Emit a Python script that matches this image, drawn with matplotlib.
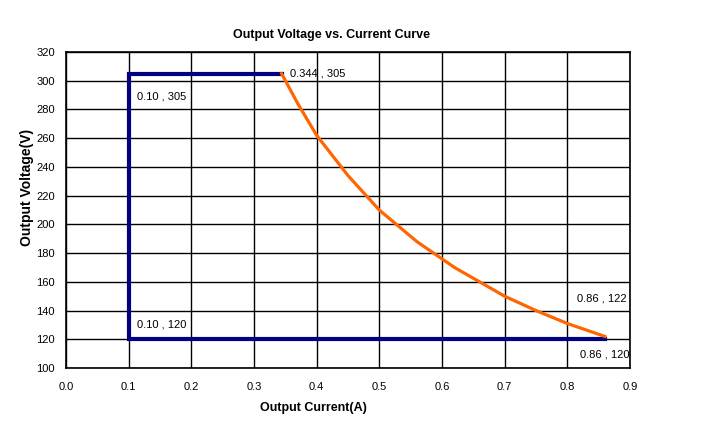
import matplotlib
matplotlib.use('Agg')
import matplotlib.pyplot as plt

plt.rcParams['font.family'] = ['Liberation Sans', 'DejaVu Sans']

# blue limit box (constant current / voltage)
box_i = [0.344, 0.10, 0.10, 0.86]
box_v = [305, 305, 120, 120]

# orange constant power curve
curve_i = [0.344, 0.37, 0.40, 0.45, 0.50, 0.56, 0.62, 0.70, 0.75, 0.80, 0.86]
curve_v = [305, 284, 262, 234, 210, 188, 170, 150, 140, 131, 122]

labels = ['0.344 , 305', '0.10 , 305', '0.10 , 120', '0.86 , 122', '0.86 , 120']
label_xy = [(0.357, 305.4), (0.113, 288.7), (0.113, 130.6), (0.815, 148.7), (0.820, 109.7)]

fig = plt.figure(figsize=(7.23, 4.41), dpi=100)
ax = fig.add_axes([0.0913, 0.1655, 0.78, 0.7165])

ax.plot(box_i, box_v, color='#000080', lw=3.0, solid_joinstyle='miter', zorder=3)
ax.plot(curve_i, curve_v, color='#FF6600', lw=2.3, zorder=3)

for t, (x, y) in zip(labels, label_xy):
    ax.text(x, y, t, fontsize=8, va='center', ha='left', color='black')

ax.set_xlim(0, 0.9)
ax.set_ylim(100, 320)
ax.set_xticks([i / 10 for i in range(10)])
ax.set_xticklabels(['0.0'] + ['%.1f' % (i / 10) for i in range(1, 10)])
ax.set_yticks(range(100, 321, 20))
ax.tick_params(length=0, labelsize=8)
ax.tick_params(axis='x', pad=10)
ax.tick_params(axis='y', pad=8)
ax.grid(True, color='black', lw=1)
ax.set_axisbelow(True)
for s in ax.spines.values():
    s.set_color('black')
    s.set_linewidth(1.2)

ax.set_title('Output Voltage vs. Current Curve', fontsize=9, fontweight='bold',
             pad=10, x=0.47)
ax.set_xlabel('Output Current(A)', fontsize=9, fontweight='bold')
ax.xaxis.set_label_coords(0.438, -0.108)
ax.set_ylabel('Output Voltage(V)', fontsize=10, fontweight='bold')
ax.yaxis.set_label_coords(-0.056, 0.57)

fig.savefig('out.png', dpi=100)
